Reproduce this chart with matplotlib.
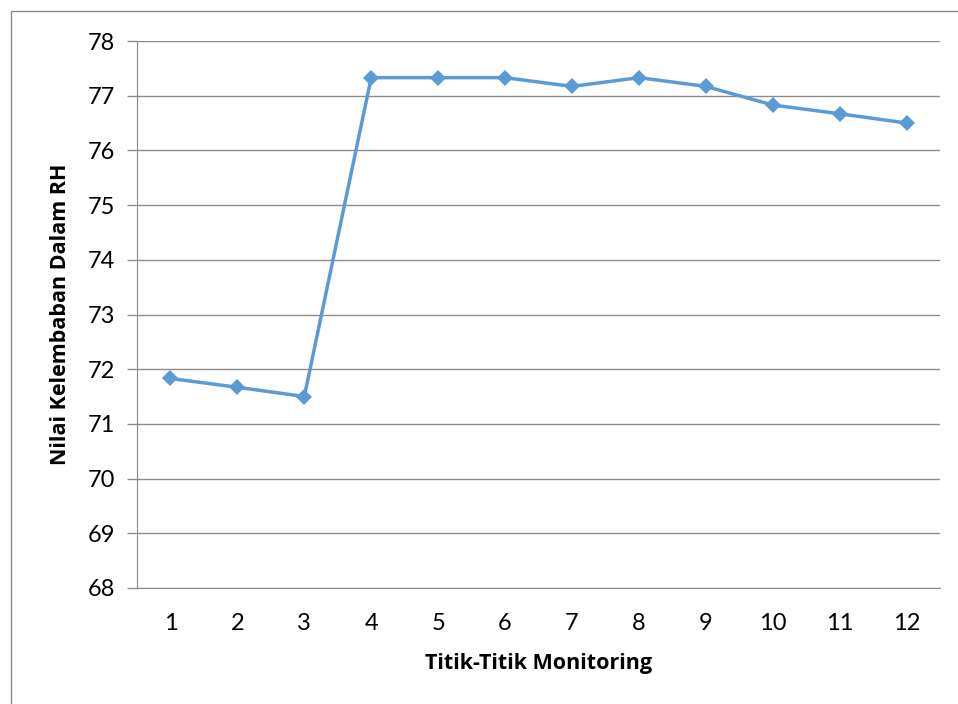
import matplotlib
matplotlib.use('Agg')
import matplotlib.pyplot as plt
from matplotlib.patches import Rectangle

# data
titik = [1, 2, 3, 4, 5, 6, 7, 8, 9, 10, 11, 12]
rh = [71.83, 71.67, 71.5, 77.33, 77.33, 77.33, 77.17, 77.33, 77.17, 76.83, 76.67, 76.5]
y_ticks = [68, 69, 70, 71, 72, 73, 74, 75, 76, 77, 78]

plt.rcParams['font.family'] = ['Lato', 'DejaVu Sans']

W, H = 958, 704
fig = plt.figure(figsize=(W / 100, H / 100), dpi=100)
ax = fig.add_axes([137 / W, 1 - 588 / H, (940 - 137) / W, (588 - 41) / H])

grid_col = '#8c8c8c'
ax.plot(titik, rh, color='#5B9BD5', linewidth=2.5, marker='D', markersize=8.5,
        markeredgewidth=0, zorder=3, clip_on=False)

ax.set_xlim(0.5, 12.5)
ax.set_ylim(68, 78)
ax.set_xticks(titik)
ax.set_yticks(y_ticks)
ax.yaxis.grid(True, color=grid_col, linewidth=1.0)
ax.set_axisbelow(True)

for s in ['top', 'right']:
    ax.spines[s].set_visible(False)
ax.spines['left'].set_color(grid_col)
ax.spines['bottom'].set_color(grid_col)

ax.tick_params(axis='y', length=7, width=1.0, color=grid_col, pad=9, labelsize=17, labelcolor='black')
ax.tick_params(axis='x', length=0, pad=18, labelsize=17, labelcolor='black')

lab_font = dict(family=['Open Sans', 'DejaVu Sans'], fontsize=15.5, fontweight='bold')
ax.set_xlabel('Titik-Titik Monitoring', labelpad=14, **lab_font)
ax.set_ylabel('Nilai Kelembaban Dalam RH', labelpad=12, **lab_font)

# chart area border (cropped on right and bottom like the original)
fig.patches.append(Rectangle((11 / W, -0.5), 2, 1.5 - 11 / H, transform=fig.transFigure,
                             fill=False, edgecolor='#8a8a8a', linewidth=1.0, figure=fig))

fig.savefig('out.png', dpi=100)
